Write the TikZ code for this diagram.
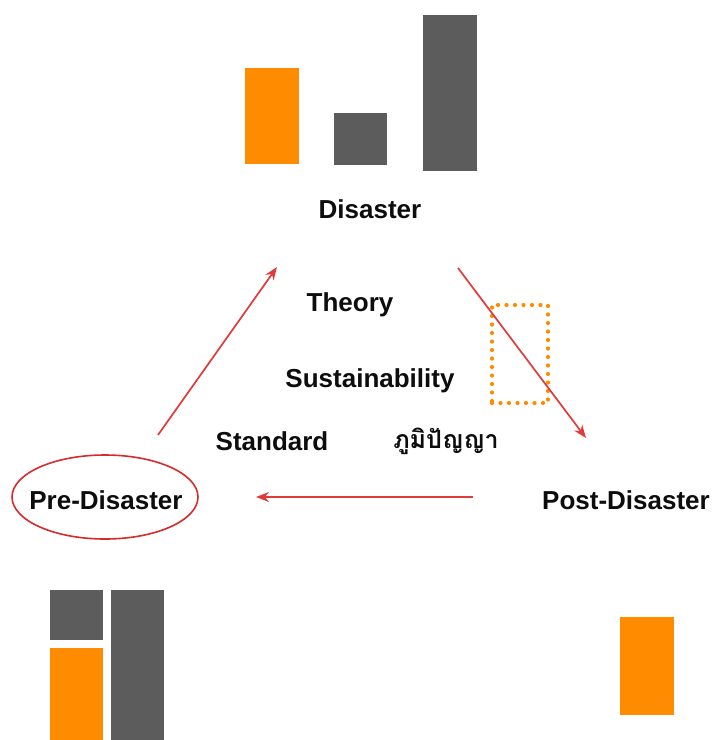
\documentclass[tikz,border=0pt]{standalone}
\usepackage{fontspec}
\setmainfont{Liberation Sans}
\newfontfamily\thaifont[Script=Thai]{Loma}
\usetikzlibrary{arrows.meta,shapes.geometric}
\definecolor{barorange}{HTML}{FF8C00}
\definecolor{bargray}{HTML}{5C5C5C}
\definecolor{arrred}{HTML}{E23A3A}
\definecolor{ellred}{HTML}{D62B2B}
\begin{document}
\begin{tikzpicture}[x=1pt,y=-1pt,
  lbl/.style={font=\bfseries\fontsize{26}{30}\selectfont, text=black!95, inner sep=0pt},
  thailbl/.style={font=\thaifont\bfseries\fontsize{25}{30}\selectfont, text=black!95, inner sep=0pt},
  ob/.style={fill=barorange, draw=none},
  gb/.style={fill=bargray, draw=none},
  conn/.style={draw=arrred, line width=1.7pt, -{Stealth[length=13pt,width=10pt]}}]
\useasboundingbox (0,0) rectangle (713,740);
% top bars
\fill[ob] (245,68) rectangle (299,164);
\fill[gb] (334,113) rectangle (387,165);
\fill[gb] (423,15) rectangle (477,171);
% bottom-left bars
\fill[gb] (50,590) rectangle (103,640);
\fill[ob] (50,648) rectangle (103,740);
\fill[gb] (111,590) rectangle (164,740);
% bottom-right bar
\fill[ob] (620,617) rectangle (674,715);
% labels
\node[lbl] (dis) at (370,209) {Disaster};
\node[lbl] (theory) at (350,305) {Theory};
\node[lbl] (sus) at (370,381) {Sustainability};
\node[lbl] (std) at (272,441) {Standard};
\node[thailbl] (thai) at (446,441) {ภูมิปัญญา};
\node[lbl] (pre) at (106,500) {Pre-Disaster};
\node[lbl] (post) at (626,500) {Post-Disaster};
% ellipse
\node[draw=ellred, line width=1.6pt, ellipse, minimum width=186pt, minimum height=84pt] (preell) at (105,497) {};
% dotted box
\node[draw=barorange, line width=4.2pt, line cap=round, dash pattern=on 0pt off 8.5pt, minimum width=56pt, minimum height=98pt, inner sep=0pt] (dotbox) at (520,354) {};
% connector ends
\coordinate (a1) at (158,435);
\coordinate (a2) at (277,267);
\coordinate (b1) at (458,268);
\coordinate (b2) at (586,438);
\coordinate (c1) at (473,497);
\coordinate (c2) at (256,497);
\draw[conn] (a1) -- (a2);
\draw[conn] (b1) -- (b2);
\draw[conn] (c1) -- (c2);
\end{tikzpicture}
\end{document}
